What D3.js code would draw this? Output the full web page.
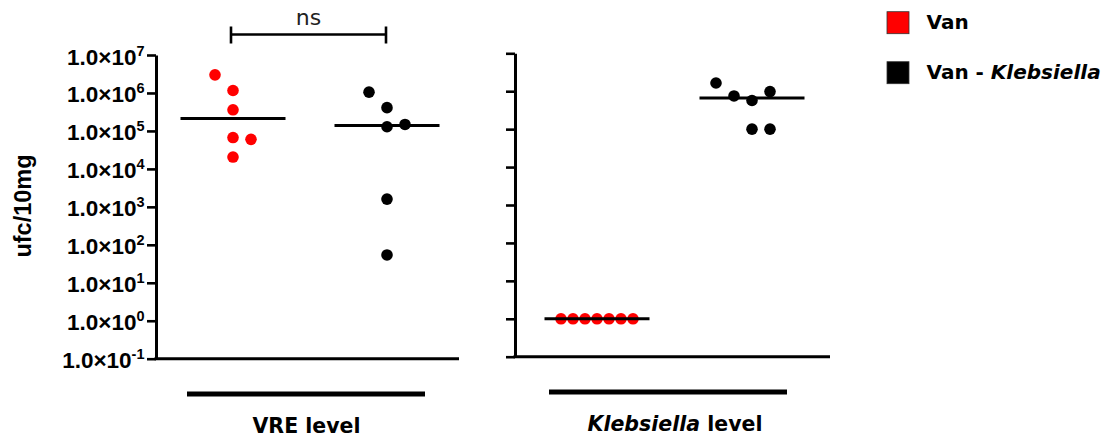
<!DOCTYPE html>
<html>
<head>
<meta charset="utf-8">
<script src="https://cdn.jsdelivr.net/npm/d3@7"></script>
<style>
  body { margin: 0; background: #fff; }
  svg { display: block; }
</style>
</head>
<body>
<svg id="chart" width="1102" height="437"></svg>
<script>
// ---- data -------------------------------------------------------------
const groups = ["Van", "Van - Klebsiella"];
const groupColors = ["#ff0000", "#000000"];
const tickExponents = [-1, 0, 1, 2, 3, 4, 5, 6, 7];

// ufc/10mg, VRE counts
const vreVan = [3.0e6, 1.16e6, 3.6e5, 6.7e4, 6.0e4, 2.05e4];
const vreVanKleb = [1.05e6, 4.1e5, 1.29e5, 1.48e5, 1.6e3, 54];
// ufc/10mg, Klebsiella counts
const klebVan = [1, 1, 1, 1, 1, 1, 1];
const klebVanKleb = [1.65e6, 7.5e5, 5.7e5, 9.8e5, 1.0e5, 1.0e5];

const panelTitles = [["VRE level"], ["", " level", "Klebsiella"]];
const significance = "ns";

// ---- layout -----------------------------------------------------------
const svg = d3.select("#chart");
const R = 5.8;            // dot radius
const STEP = 18;          // horizontal spacing of neighbouring dots
const HALF_SPREAD = 36;   // max horizontal spread of a cluster
const CLUSTER_GAP = 16;   // vertical gap (px) that separates clusters
const MEDIAN_HALF = 52.5;

const panels = [
  { series: [vreVan, vreVanKleb], x0: 156, x1: 459, top: 55, bottom: 358.7,
    centers: [233, 387], bar: [187, 425, 394], title: 0, titleX: 306.5, titleY: 433, labels: true },
  { series: [klebVan, klebVanKleb], x0: 515, x1: 830, top: 53.3, bottom: 356.7,
    centers: [597, 752], bar: [549, 787, 392], title: 1, titleX: 675, titleY: 431, labels: false }
];

// Spread vertically close points sideways. Clusters lying above the
// median put their extra slot to the left, the others to the right.
function swarm(values, y, yMed) {
  const pts = values.map((v, i) => ({ v, i, y: y(v) }));
  const sorted = pts.slice().sort((a, b) => a.y - b.y);
  const clusters = [];
  let cur = [];
  sorted.forEach((p, k) => {
    if (k > 0 && p.y - sorted[k - 1].y >= CLUSTER_GAP) { clusters.push(cur); cur = []; }
    cur.push(p);
  });
  if (cur.length) clusters.push(cur);
  clusters.forEach(c => {
    c.sort((a, b) => a.i - b.i);
    const n = c.length;
    const step = n > 1 ? Math.min(STEP, (2 * HALF_SPREAD) / (n - 1)) : 0;
    const above = d3.mean(c, p => p.y) < yMed - 2;
    const shift = above ? Math.floor(n / 2) : Math.floor((n - 1) / 2);
    c.forEach((p, j) => { p.dx = (j - shift) * step; });
  });
  return pts;
}

panels.forEach((P, pi) => {
  const y = d3.scaleLog().domain([0.1, 1e7]).range([P.bottom, P.top]);
  const x = d3.scalePoint().domain(groups).range(P.centers);
  P.y = y; P.x = x;
  const g = svg.append("g");

  // y axis
  const axis = d3.axisLeft(y)
    .tickValues(tickExponents.map(e => Math.pow(10, e)))
    .tickSize(9)
    .tickSizeOuter(0)
    .tickPadding(3)
    .tickFormat("");
  const ax = g.append("g").attr("transform", `translate(${P.x0},0)`).call(axis);
  ax.select(".domain").attr("stroke", "#000").attr("stroke-width", 3);
  ax.selectAll(".tick line").attr("stroke", "#000").attr("stroke-width", 2.6);

  if (P.labels) {
    ax.selectAll(".tick text").each(function (d) {
      const t = d3.select(this)
        .attr("x", -11.5)
        .attr("dy", "0.40em")
        .attr("fill", "#000")
        .attr("font-family", "'Liberation Sans', Arial, sans-serif")
        .attr("font-weight", "bold")
        .attr("font-size", 22.5)
        .attr("text-anchor", "end");
      const e = Math.round(Math.log10(d));
      t.append("tspan").text("1.0\u00d710");
      t.append("tspan").attr("font-size", 14.5).attr("dy", -9).text(String(e));
    });
  }

  // x baseline
  g.append("line")
    .attr("x1", P.x0 - 1.5).attr("x2", P.x1)
    .attr("y1", y(0.1)).attr("y2", y(0.1))
    .attr("stroke", "#000").attr("stroke-width", 3);

  // points + medians
  P.series.forEach((vals, si) => {
    const cx = x(groups[si]);
    const med = d3.median(vals);
    const pts = swarm(vals, y, y(med));
    g.append("g").selectAll("circle").data(pts).join("circle")
      .attr("cx", d => cx + d.dx)
      .attr("cy", d => d.y)
      .attr("r", R)
      .attr("fill", groupColors[si]);
    g.append("line")
      .attr("x1", cx - MEDIAN_HALF).attr("x2", cx + MEDIAN_HALF)
      .attr("y1", y(med)).attr("y2", y(med))
      .attr("stroke", "#000").attr("stroke-width", 3);
  });

  // group bar and title underneath
  g.append("line")
    .attr("x1", P.bar[0]).attr("x2", P.bar[1])
    .attr("y1", P.bar[2]).attr("y2", P.bar[2])
    .attr("stroke", "#000").attr("stroke-width", 5);
  const title = g.append("text")
    .attr("x", P.titleX).attr("y", P.titleY)
    .attr("text-anchor", "middle")
    .attr("font-family", "'DejaVu Sans', sans-serif")
    .attr("font-weight", "bold")
    .attr("font-size", 20.5)
    .attr("fill", "#000");
  const parts = panelTitles[P.title];
  if (parts.length === 1) {
    title.text(parts[0]);
  } else {
    title.append("tspan").attr("font-style", "italic").text(parts[2]);
    title.append("tspan").text(parts[1]);
  }
});

// significance bracket between the VRE groups
{
  const P = panels[0];
  const xa = P.x(groups[0]) - 2, xb = P.x(groups[1]) - 1;
  const yb = 34.5;
  const br = svg.append("g").attr("stroke", "#000").attr("stroke-width", 2.6);
  br.append("line").attr("x1", xa).attr("x2", xb).attr("y1", yb).attr("y2", yb);
  br.append("line").attr("x1", xa).attr("x2", xa).attr("y1", yb - 8).attr("y2", yb + 9);
  br.append("line").attr("x1", xb).attr("x2", xb).attr("y1", yb - 8).attr("y2", yb + 9);
  svg.append("text")
    .attr("x", (xa + xb) / 2).attr("y", 25)
    .attr("text-anchor", "middle")
    .attr("font-family", "'DejaVu Sans', sans-serif")
    .attr("font-size", 22)
    .attr("fill", "#222")
    .text(significance);
}

// y axis title
svg.append("text")
  .attr("transform", "translate(31,206) rotate(-90)")
  .attr("text-anchor", "middle")
  .attr("font-family", "'Liberation Sans', Arial, sans-serif")
  .attr("font-weight", "bold")
  .attr("font-size", 23.5)
  .attr("fill", "#000")
  .text("ufc/10mg");

// legend
const legend = svg.append("g").attr("transform", "translate(887,11.7)");
groups.forEach((name, i) => {
  const row = legend.append("g").attr("transform", `translate(0,${i * 50})`);
  row.append("rect")
    .attr("width", 22).attr("height", 22)
    .attr("fill", groupColors[i])
    .attr("stroke", "#333").attr("stroke-width", 0.8);
  const t = row.append("text")
    .attr("x", 39.5).attr("y", 16.8)
    .attr("font-family", "'DejaVu Sans', sans-serif")
    .attr("font-weight", "bold")
    .attr("font-size", 20)
    .attr("fill", "#000");
  const dash = name.indexOf(" - ");
  if (dash < 0) {
    t.text(name);
  } else {
    t.append("tspan").text(name.slice(0, dash + 3));
    t.append("tspan").attr("font-style", "italic").text(name.slice(dash + 3));
  }
});
</script>
</body>
</html>
